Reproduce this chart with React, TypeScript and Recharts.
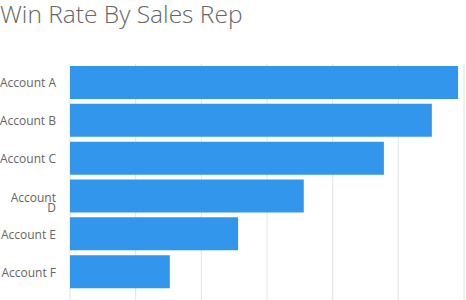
import { BarChart, Bar, XAxis, YAxis, CartesianGrid } from "recharts";

const accounts = ["Account A", "Account B", "Account C", "Account D", "Account E", "Account F"];
const winRates = [59.1, 55.1, 47.8, 35.6, 25.6, 15.2];
const xTicks = [0, 10, 20, 30, 40, 50, 60];

const data = accounts.map((name, i) => ({ name, rate: winRates[i] }));

const AccountTick = (props: any) => {
  const { x, y, payload } = props;
  const label: string = payload.value;
  // the original wraps this one label onto two lines
  const lines = label === "Account D" ? ["Account", "D"] : [label];
  const startY = lines.length > 1 ? y + 5.5 : y + 4.5;
  return (
    <text x={x - 6} y={startY} textAnchor="end" fill="#666" fontSize={12} fontFamily="'Open Sans', sans-serif">
      {lines.map((l, i) => (
        <tspan key={i} x={x - 6} dy={i === 0 ? 0 : 10}>
          {l}
        </tspan>
      ))}
    </text>
  );
};

export default function App() {
  return (
    <div style={{ position: "absolute", left: 0, top: 0, width: 466, height: 300, background: "#fff" }}>
      <div
        style={{
          position: "absolute",
          left: 0,
          top: -1,
          lineHeight: "30px",
          fontFamily: "'Open Sans', sans-serif",
          fontSize: 24.5,
          fontWeight: 300,
          color: "#666",
          whiteSpace: "nowrap",
        }}
      >
        Win Rate By Sales Rep
      </div>
      <BarChart
        width={466}
        height={300}
        data={data}
        layout="vertical"
        margin={{ top: 64, right: 2, bottom: 0, left: 0 }}
        barCategoryGap={2.5}
      >
        <CartesianGrid horizontal={false} stroke="#e2e2e2" />
        <XAxis type="number" domain={[0, 60]} ticks={xTicks} hide />
        <YAxis
          type="category"
          dataKey="name"
          width={70}
          axisLine={false}
          tickLine={false}
          tick={<AccountTick />}
          padding={{ top: 0, bottom: 9 }}
        />
        <Bar dataKey="rate" fill="#3296ec" barSize={33} isAnimationActive={false} />
      </BarChart>
    </div>
  );
}
